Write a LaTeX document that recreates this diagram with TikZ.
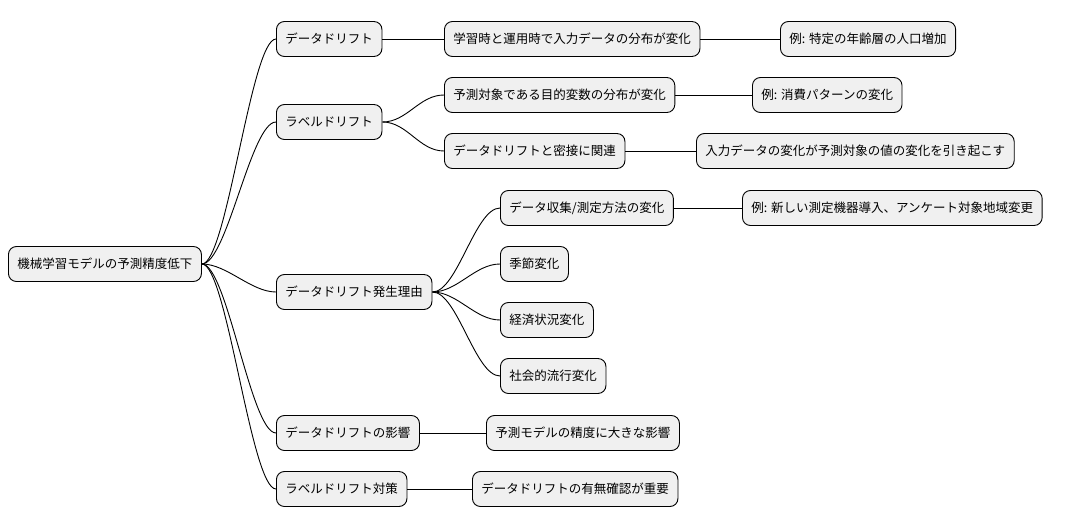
\documentclass[tikz,border=0pt]{standalone}
\usepackage{fontspec}
\setmainfont{Noto Sans CJK JP}
\begin{document}
\begin{tikzpicture}[x=1pt,y=-1pt,
  box/.style={draw=black,line width=0.9pt,fill=black!6,rounded corners=8pt,minimum height=35pt,inner xsep=9pt,anchor=west,font=\fontsize{12.5}{14}\selectfont},
  con/.style={line width=0.9pt}]
\useasboundingbox (0,0) rectangle (1090,527);
\node[box] (r) at (8,264) {機械学習モデルの予測精度低下};
\node[box] (a) at (276,39) {データドリフト};
\node[box] (b) at (276,122) {ラベルドリフト};
\node[box] (c) at (276,292) {データドリフト発生理由};
\node[box] (d) at (276,433) {データドリフトの影響};
\node[box] (e) at (276,489) {ラベルドリフト対策};
\node[box] (a1) at (444,39) {学習時と運用時で入力データの分布が変化};
\node[box] (b1) at (444,95) {予測対象である目的変数の分布が変化};
\node[box] (b2) at (444,151) {データドリフトと密接に関連};
\node[box] (c1) at (500,208) {データ収集/測定方法の変化};
\node[box] (c2) at (500,264) {季節変化};
\node[box] (c3) at (500,320) {経済状況変化};
\node[box] (c4) at (500,376) {社会的流行変化};
\node[box] (d1) at (486,433) {予測モデルの精度に大きな影響};
\node[box] (e1) at (472,489) {データドリフトの有無確認が重要};
\node[box] (a11) at (780,39) {例: 特定の年齢層の人口増加};
\node[box] (b11) at (752,95) {例: 消費パターンの変化};
\node[box] (b21) at (696,151) {入力データの変化が予測対象の値の変化を引き起こす};
\node[box] (c11) at (742,208) {例: 新しい測定機器導入、アンケート対象地域変更};
\foreach \p/\c in {r/a,r/b,r/c,r/d,r/e,b/b1,b/b2,c/c1,c/c2,c/c3,c/c4}{
  \draw[con] (\p.east) .. controls +(25,0) and +(-25,0) .. (\c.west);
}
\foreach \p/\c in {a/a1,a1/a11,b1/b11,b2/b21,c1/c11,d/d1,e/e1}{
  \draw[con] (\p.east) -- (\c.west);
}
\end{tikzpicture}
\end{document}
